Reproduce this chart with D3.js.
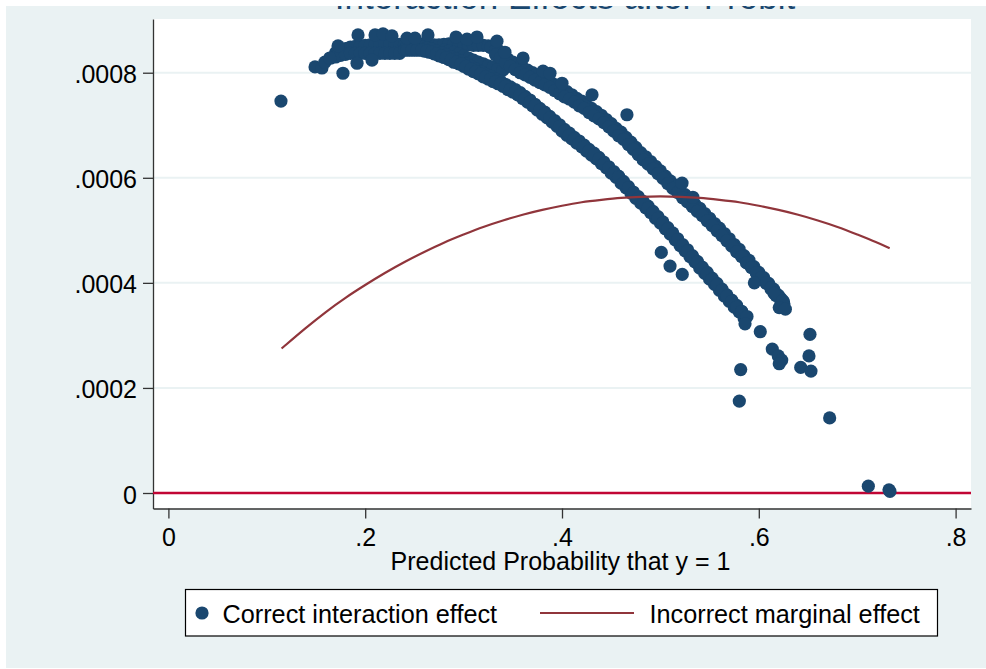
<!DOCTYPE html>
<html><head><meta charset="utf-8">
<script src="https://cdnjs.cloudflare.com/ajax/libs/d3/7.8.5/d3.min.js"></script>
<style>html,body{margin:0;padding:0;background:#fff}svg{display:block}text{font-family:"Liberation Sans",Arial,sans-serif;fill:#000}</style>
</head><body><svg id="c" width="986" height="669"></svg>
<script>
const xTicks=[0,.2,.4,.6,.8], xTickLabels=["0",".2",".4",".6",".8"];
const yTicks=[0,200,400,600,800], yTickLabels=["0",".0002",".0004",".0006",".0008"];
const titleText="Interaction Effects after Probit";
const xTitle="Predicted Probability that y = 1";
const legendLabels=["Correct interaction effect","Incorrect marginal effect"];

const lowerX=[.24,.245,.25,.255,.26,.265,.27,.275,.28,.285,.29,.295,.30,.305,.31,.315,.32,.325,.33,.335,.34,.345,.35,.355,.36,.365,.37,.375,.38,.385,.39,.395,.40,.405,.41,.415,.42,.425,.43,.435,.44,.445,.45,.455,.46,.465,.47,.475,.48,.485,.49,.495,.50,.505,.51,.515,.52,.525,.53,.535,.54,.545,.55,.555,.56,.565,.57,.575,.58,.585];
const lowerY=[843,843,843,843,841,839,836,832,829,825,820,817,812,807,802,798,792,788,783,779,774,768,763,758,751,744,737,729,721,714,706,698,689,681,674,666,659,651,643,636,627,619,609,601,590,581,571,561,552,543,534,523,514,503,493,482,471,461,450,440,428,418,407,397,386,375,365,354,345,333];
const lowerX2=[.2425,.2475,.2525,.2575,.2625,.2675,.2725,.2775,.2825,.2875,.2925,.2975,.3025,.3075,.3125,.3175,.3225,.3275,.3325,.3375,.3425,.3475,.3525,.3575,.3625,.3675,.3725,.3775,.3825,.3875,.3925,.3975,.4025,.4075,.4125,.4175,.4225,.4275,.4325,.4375,.4425,.4475,.4525,.4575,.4625,.4675,.4725,.4775,.4825,.4875,.4925,.4975,.5025,.5075,.5125,.5175,.5225,.5275,.5325,.5375,.5425,.5475,.5525,.5575,.5625,.5675,.5725,.5775,.5825];
const lowerY2=[850,850,850,849,847,845,841,838,834,830,826,822,817,812,807,802,797,793,788,784,778,773,768,762,755,748,740,732,725,717,709,701,692,685,677,670,662,654,647,639,630,621,612,603,593,583,573,564,555,546,536,526,516,505,495,484,473,463,452,441,430,420,409,399,388,377,367,357,346];

const upperX=[.33,.335,.34,.345,.35,.355,.36,.365,.37,.375,.38,.385,.39,.395,.40,.405,.41,.415,.42,.425,.43,.435,.44,.445,.45,.455,.46,.465,.47,.475,.48,.485,.49,.495,.50,.505,.51,.515,.52,.525,.53,.535,.54,.545,.55,.555,.56,.565,.57,.575,.58,.585,.59,.595,.60,.605,.61,.615,.62,.625];
const upperTopY=[848,843,833,826,820,814,810,805,800,795,791,786,780,774,768,764,758,751,746,738,732,726,719,711,703,694,687,677,668,658,648,640,631,622,613,603,594,586,576,568,559,550,542,532,523,513,504,494,484,473,464,452,443,431,420,410,399,388,376,364];
const upperEdgeX=[.3275,.3325,.3375,.3425,.3475,.3525,.3575,.3625,.3675,.3725,.3775,.3825,.3875,.3925,.3975,.4025,.4075,.4125,.4175,.4225,.4275,.4325,.4375,.4425,.4475,.4525,.4575,.4625,.4675,.4725,.4775,.4825,.4875,.4925,.4975,.5025,.5075,.5125,.5175,.5225,.5275,.5325,.5375,.5425,.5475,.5525,.5575,.5625,.5675,.5725,.5775,.5825,.5875,.5925,.5975,.6025,.6075,.6125,.6175,.6225];
const upperLowX=[.3325,.3375,.3425,.3475,.3525,.3575,.3625,.3675,.3725,.3775,.3825,.3875,.3925,.3975,.4025,.4075,.4125,.4175,.4225,.4275,.4325,.4375,.4425,.4475,.4525,.4575,.4625,.4675,.4725,.4775,.4825,.4875,.4925,.4975,.5025,.5075,.5125,.5175,.5225,.5275,.5325,.5375,.5425,.5475,.5525,.5575,.5625,.5675,.5725,.5775,.5825,.5875,.5925,.5975,.6025,.6075,.6125,.6175,.6225,.6255];
const upperLowY=[834,829,819,812,806,800,796,791,786,781,777,772,766,760,754,750,744,737,732,724,718,712,705,697,689,680,673,663,654,644,634,626,617,608,599,589,580,572,562,554,545,536,528,518,509,499,490,480,470,459,450,438,429,419,410,400,391,380,370,360];

const capX=[.17,.175,.18,.185,.19,.195,.20,.205,.21,.215,.22,.225,.23,.235,.24,.245,.25,.255,.26,.265,.27,.275,.28,.285,.29,.295,.30,.305,.31,.315,.32,.325,.33];
const capY=[838,843,846,849,850,851,852,853,853,854,855,855,855,854,853,853,854,855,855,854,853,853,854,855,855,855,854,853,852,852,852,851,850];
const fillX=[.165,.17,.175,.18,.185,.19,.195,.20,.205,.21,.215,.22,.225,.23,.235,.28,.285,.29,.295,.30,.305,.31,.315,.32,.325,.33,.335,.34];
const fillY=[828,830,833,835,837,837,837,837,837,837,837,837,837,837,837,843,841,839,836,832,828,824,820,817,813,811,807,805];
const strayX=[.1144,.149,.156,.159,.164,.1724,.1774,.1917,.1927,.2069,.21,.2181,.2272,.2425,.2506,.2638,.2923,.3035,.3136,.3339,.342,.3604,.3807,.3878,.4,.4305,.466,.522,.533,.588,.586,.5009,.5098,.5222,.6015,.6137,.6198,.6233,.6208,.5816,.5802,.652,.651,.6426,.653,.672,.7113,.7323,.7333,.5955,.6155,.6243,.6208,.6270];
const strayY=[746,811,809,820,828,851,799,818,872,824,872,874,870,866,866,872,868,864,868,860,839,828,803,799,780,758,720,590,563,336,322,458,432,416,307,274,261,253,246,235,175,302,261,239,232,143,13,6,3,400,380,366,353,350];

const curveX=[.115,.14,.16,.18,.2,.22,.24,.26,.28,.3,.32,.34,.36,.38,.4,.42,.44,.46,.48,.5,.52,.54,.56,.58,.6,.62,.64,.66,.68,.7,.72,.733];
const curveY=[275,315,345,372,396,419,440,459,477,492,507,519,530,539,547,554,558,562,564,565,564,562,558,554,547,539,530,519,507,492,477,466];

const navy="#1a476f", maroon="#90353b", cran="#c10534", pale="#eaf2f3", axisCol="#333";
const R=6.6, FS=25, LFS=25.25;
const svg=d3.select("#c");
const x=d3.scaleLinear().domain([(153-168.4)/984,(971-168.4)/984]).range([153,971]);
const y=d3.scaleLinear().domain([(493-508.5)*1.9035,(493-19)*1.9035]).range([508.5,19]);

svg.append("rect").attr("x",6).attr("y",6).attr("width",980).attr("height",662).attr("fill",pale);
svg.append("rect").attr("x",153).attr("y",19).attr("width",818).attr("height",489.5).attr("fill","#fff");

svg.append("clipPath").attr("id","tc").append("rect").attr("x",0).attr("y",6).attr("width",986).attr("height",20);
svg.append("text").attr("clip-path","url(#tc)").attr("x",565).attr("y",9).attr("text-anchor","middle")
  .attr("font-size",35).style("fill",navy).text(titleText);

// grid
svg.append("g").selectAll("line").data(yTicks.filter(d=>d>0)).join("line")
  .attr("x1",153).attr("x2",971).attr("y1",d=>y(d)).attr("y2",d=>y(d)).attr("stroke",pale).attr("stroke-width",2);

// axes
const ax=svg.append("g").attr("transform","translate(0,508.5)")
  .call(d3.axisBottom(x).tickValues(xTicks).tickFormat((d,i)=>xTickLabels[i]).tickSizeInner(10).tickSizeOuter(0));
const ay=svg.append("g").attr("transform","translate(153,0)")
  .call(d3.axisLeft(y).tickValues(yTicks).tickFormat((d,i)=>yTickLabels[i]).tickSizeInner(10).tickSizeOuter(0));
[ax,ay].forEach(g=>{g.selectAll("path,line").attr("stroke",axisCol).attr("stroke-width",1.3);
  g.selectAll("text").attr("font-size",FS).style("font-family",'"Liberation Sans",Arial,sans-serif').style("fill","#000");});
ax.selectAll("text").attr("y",0).attr("dy",0).attr("transform","translate(0,37.5)");
ay.selectAll("text").attr("x",-16).attr("dy",0).attr("y",0).attr("transform","translate(0,10)");

// zero line
svg.append("line").attr("x1",153).attr("x2",971).attr("y1",y(0)).attr("y2",y(0)).attr("stroke",cran).attr("stroke-width",2.6);

// points
const pts=[];
[[capX,capY],[fillX,fillY],[lowerX,lowerY],[lowerX2,lowerY2],[lowerX2,lowerY],[upperX,upperTopY],[upperEdgeX,upperTopY],[upperLowX,upperLowY],[strayX,strayY]].forEach(([a,b])=>a.forEach((v,i)=>pts.push([v,b[i]])));
svg.append("g").selectAll("circle").data(pts).join("circle")
  .attr("cx",d=>x(d[0])).attr("cy",d=>y(d[1])).attr("r",R).attr("fill",navy);

// curve
svg.append("path").datum(curveX.map((v,i)=>[v,curveY[i]])).attr("fill","none").attr("stroke",maroon).attr("stroke-width",2.2)
  .attr("d",d3.line().x(d=>x(d[0])).y(d=>y(d[1])).curve(d3.curveBasis));

// x title
svg.append("text").attr("x",560.5).attr("y",570).attr("text-anchor","middle").attr("font-size",FS).text(xTitle);

// legend
svg.append("rect").attr("x",185.5).attr("y",589.5).attr("width",752).attr("height",46.5).attr("fill","#fff").attr("stroke","#000").attr("stroke-width",1.2);
svg.append("circle").attr("cx",202).attr("cy",613).attr("r",R).attr("fill",navy);
svg.append("text").attr("x",222.5).attr("y",622.5).attr("font-size",LFS).text(legendLabels[0]);
svg.append("line").attr("x1",540).attr("x2",634).attr("y1",613).attr("y2",613).attr("stroke",maroon).attr("stroke-width",2.2);
svg.append("text").attr("x",649.5).attr("y",622.5).attr("font-size",LFS).text(legendLabels[1]);
</script></body></html>
